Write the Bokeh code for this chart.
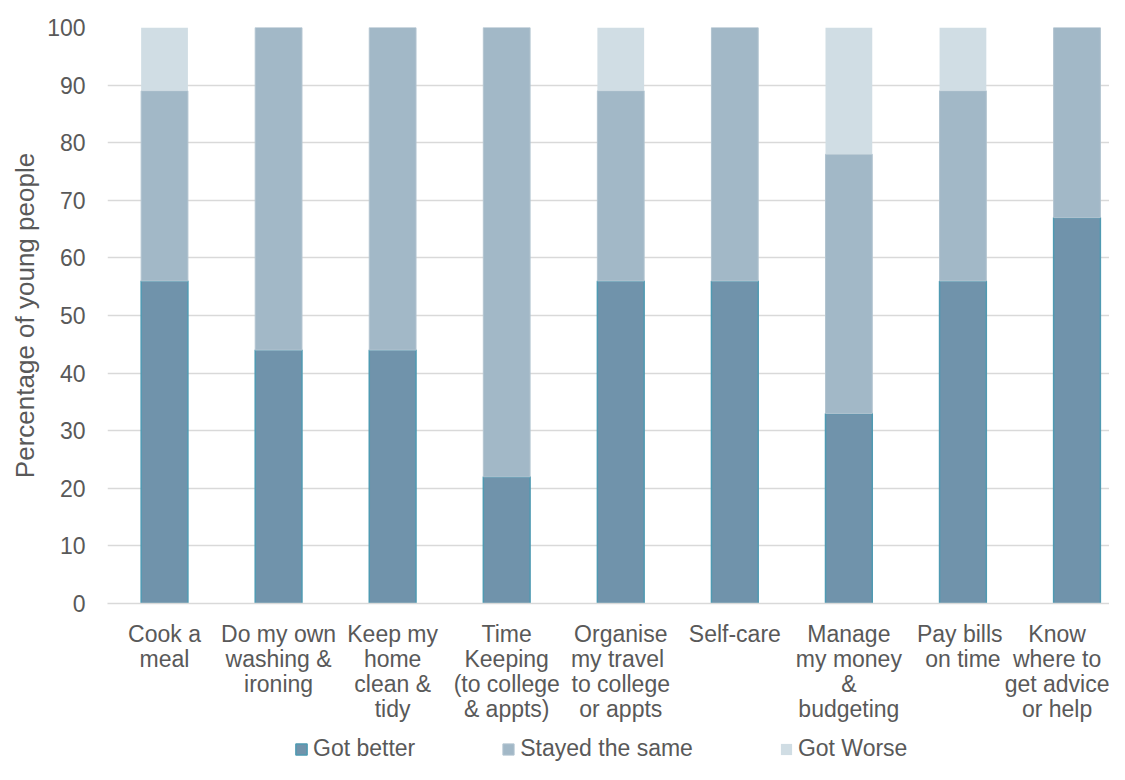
from bokeh.plotting import figure
from bokeh.models import ColumnDataSource, Range1d, FixedTicker, Legend
from bokeh.layouts import column
from bokeh.embed import file_html
from bokeh.resources import INLINE

categories = ["Cook a\nmeal", "Do my own\nwashing &\nironing", "Keep my\nhome\nclean &\ntidy",
              "Time\nKeeping\n(to college\n& appts)", "Organise\nmy  travel\nto college\nor appts",
              "Self-care", "Manage\nmy money\n&\nbudgeting", "Pay  bills\non time",
              "Know\nwhere to\nget advice\nor help"]
got_better = [56, 44, 44, 22, 56, 56, 33, 56, 67]
stayed_same = [33, 56, 56, 78, 33, 44, 45, 33, 33]
got_worse = [11, 0, 0, 0, 11, 0, 22, 11, 0]
series_names = ["Got better", "Stayed the same", "Got Worse"]
y_ticks = [0, 10, 20, 30, 40, 50, 60, 70, 80, 90, 100]

FONT = "Liberation Sans"
TXT = "#595959"
FILLS = ["#7093ab", "#a2b8c7", "#d0dde4"]
LINES = ["#4f9ab2", "#b2c4d0", None]
LWS = [1.5, 1, 0]

xpos = list(range(len(categories)))
source = ColumnDataSource(dict(x=xpos, better=got_better, same=stayed_same, worse=got_worse))

p = figure(width=1109, height=728, output_backend="svg", toolbar_location=None,
           x_range=Range1d(-0.5, 8.285), y_range=Range1d(0, 100),
           min_border_left=107, min_border_top=27, min_border_bottom=125, min_border_right=0)
p.outline_line_color = None
p.background_fill_color = "white"

p.vbar_stack(["better", "same", "worse"], x="x", width=0.41, source=source,
             fill_color=FILLS, line_color=LINES, line_width=LWS)

# y axis
p.yaxis.ticker = FixedTicker(ticks=y_ticks)
p.yaxis.axis_line_color = None
p.yaxis.major_tick_line_color = None
p.yaxis.minor_tick_line_color = None
p.yaxis.major_tick_out = 0
p.yaxis.major_label_standoff = 22
p.yaxis.major_label_text_font = FONT
p.yaxis.major_label_text_font_size = "23px"
p.yaxis.major_label_text_color = TXT
p.yaxis.axis_label = "Percentage of young people"
p.yaxis.axis_label_text_font = FONT
p.yaxis.axis_label_text_font_size = "26px"
p.yaxis.axis_label_text_font_style = "normal"
p.yaxis.axis_label_text_color = TXT
p.yaxis.axis_label_standoff = 4

# x axis
p.xaxis.ticker = FixedTicker(ticks=xpos)
p.xaxis.major_label_overrides = {i: c for i, c in zip(xpos, categories)}
p.xaxis.axis_line_color = "#d9d9d9"
p.xaxis.axis_line_width = 1.5
p.xaxis.major_tick_line_color = None
p.xaxis.minor_tick_line_color = None
p.xaxis.major_tick_out = 0
p.xaxis.major_label_standoff = 17
p.xaxis.major_label_text_font = FONT
p.xaxis.major_label_text_font_size = "23px"
p.xaxis.major_label_text_color = TXT
p.xaxis.major_label_text_line_height = 0.97

p.xgrid.grid_line_color = None
p.ygrid.grid_line_color = "#d9d9d9"
p.ygrid.grid_line_width = 1.5

# legend strip (swatch glyphs are zero-sized so only the legend shows them)
lg = figure(width=1109, height=36, output_backend="svg", toolbar_location=None,
            x_range=Range1d(0, 1), y_range=Range1d(0, 1),
            min_border_left=0, min_border_right=0, min_border_top=0, min_border_bottom=0)
lg.axis.visible = False
lg.grid.visible = False
lg.outline_line_color = None
swatch = ColumnDataSource(dict(x=[0.5], top=[0.5], bottom=[0.5]))
items = []
for name, fc, lc, lw in zip(series_names, FILLS, LINES, LWS):
    r = lg.vbar(x="x", top="top", bottom="bottom", width=0, source=swatch,
                fill_color=fc, line_color=lc, line_width=lw)
    items.append((name, [r]))
legend = Legend(items=items, orientation="horizontal", location=(187, 2),
                border_line_color=None, background_fill_alpha=0,
                padding=0, margin=0, spacing=86,
                glyph_width=14, glyph_height=14, label_standoff=5,
                label_text_font=FONT, label_text_font_size="23px",
                label_text_color=TXT, label_height=24)
lg.add_layout(legend, "center")

open("out.html", "w").write(file_html(column(p, lg, spacing=0), INLINE))
